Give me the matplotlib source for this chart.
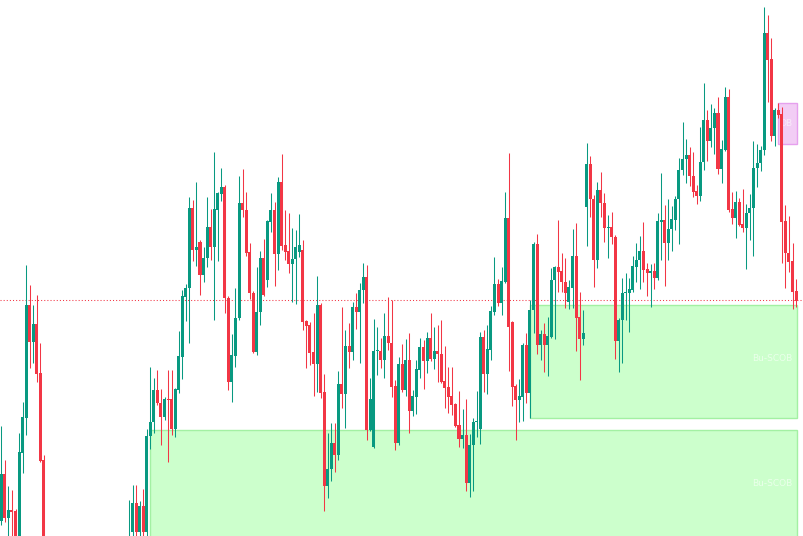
import numpy as np
import matplotlib.pyplot as plt
from matplotlib.patches import Rectangle

# OHLC, one entry per bar (arbitrary price units)
opens = [479, 526, 482, 490, 489, 450, 547, 582, 695, 658, 676, 627, 540,
         440, 418, 430, 398, 385, 400, 408, 422, 410, 388, 368, 382, 376, 400,
         394, 415, 406, 420, 434, 422, 436, 444, 438,
         440, 468, 497, 468, 494, 468, 564, 578, 610, 597, 583, 601, 601, 571,
         610, 643, 703, 712, 792, 750, 758, 725, 742, 773, 753, 790, 806, 813,
         702, 618, 644, 682, 797, 790, 748, 707, 648, 688, 742, 720, 778, 790,
         746, 818, 755, 749, 736, 741, 748, 750, 679, 675, 648, 636, 695, 608,
         514, 531, 557, 545, 616, 606, 654, 648, 693, 688, 710, 723, 570, 553,
         649, 649, 640, 664, 657, 614, 557, 636, 610, 640, 589, 603, 630, 653,
         639, 662, 641, 649, 646, 619, 613, 604, 596, 575, 561, 565, 517, 555,
         578, 571, 663, 626, 650, 688, 716, 697, 718, 782, 678, 614, 600, 603,
         655, 607, 690, 756, 655, 666, 655, 663, 720, 733, 729, 718, 698, 712,
         744, 683, 661, 793, 836, 801, 740, 810, 797, 772, 773, 763, 659, 680,
         707, 707, 710, 733, 740, 749, 731, 727, 729, 722, 778, 780, 757, 771,
         780, 801, 830, 841, 845, 824, 809, 804, 838, 880, 859, 872, 887, 831,
         850, 903, 791, 782, 798, 776, 772, 787, 792, 832, 837, 850, 967, 941,
         864, 890, 886, 779, 747, 739, 709]
highs = [574, 540, 514, 510, 491, 567, 598, 735, 715, 695, 705, 657, 545,
         452, 435, 440, 410, 405, 415, 430, 440, 425, 400, 390, 395, 405, 412,
         420, 430, 425, 440, 448, 440, 452, 455, 458,
         500, 515, 515, 499, 511, 571, 633, 622, 630, 611, 603, 630, 630, 612,
         669, 710, 716, 803, 800, 818, 760, 753, 803, 791, 848, 808, 832, 815,
         704, 666, 712, 824, 831, 808, 757, 709, 733, 749, 761, 780, 807, 798,
         823, 846, 790, 787, 772, 770, 786, 760, 680, 678, 687, 724, 697, 626,
         567, 577, 577, 629, 693, 670, 677, 698, 707, 717, 737, 735, 622, 681,
         673, 662, 687, 703, 700, 620, 643, 656, 661, 667, 610, 640, 662, 660,
         668, 687, 673, 675, 680, 654, 633, 633, 597, 609, 591, 601, 566, 582,
         609, 668, 670, 675, 694, 743, 721, 733, 808, 847, 679, 616, 621, 657,
         667, 700, 758, 766, 670, 677, 683, 732, 734, 780, 747, 742, 720, 771,
         777, 708, 690, 857, 844, 805, 818, 828, 807, 785, 788, 765, 682, 722,
         727, 722, 744, 757, 764, 778, 737, 736, 737, 787, 827, 795, 801, 794,
         804, 842, 878, 861, 853, 848, 815, 873, 917, 890, 896, 892, 903, 860,
         913, 911, 808, 809, 802, 811, 796, 806, 859, 856, 854, 993, 985, 962,
         892, 897, 893, 795, 784, 757, 721]
lows = [475, 478, 455, 452, 440, 444, 527, 565, 632, 637, 618, 538, 400,
        410, 400, 390, 375, 370, 388, 395, 402, 380, 360, 355, 370, 368, 385,
        388, 400, 395, 410, 415, 410, 425, 430, 425,
        428, 455, 455, 460, 460, 460, 551, 567, 595, 555, 580, 538, 565, 563,
        607, 621, 679, 657, 739, 734, 705, 718, 733, 740, 680, 739, 799, 687,
        610, 598, 633, 680, 783, 744, 701, 647, 645, 675, 704, 713, 768, 714,
        730, 750, 740, 727, 698, 696, 743, 670, 632, 635, 604, 608, 602, 489,
        502, 519, 528, 540, 592, 572, 632, 640, 671, 637, 697, 560, 569, 552,
        625, 632, 622, 650, 603, 550, 555, 608, 604, 567, 584, 586, 622, 611,
        627, 639, 631, 618, 617, 592, 587, 585, 573, 553, 552, 509, 503, 509,
        563, 556, 608, 606, 640, 685, 694, 685, 717, 629, 594, 560, 578, 579,
        597, 582, 667, 646, 640, 628, 624, 662, 661, 708, 708, 692, 691, 692,
        649, 620, 655, 754, 783, 713, 732, 783, 758, 742, 756, 641, 628, 637,
        680, 668, 708, 718, 711, 718, 704, 693, 711, 720, 740, 714, 740, 749,
        770, 756, 825, 817, 814, 803, 796, 799, 830, 839, 853, 846, 826, 817,
        849, 788, 776, 762, 774, 768, 731, 760, 744, 813, 829, 845, 898, 859,
        854, 882, 737, 712, 728, 691, 693]
closes = [526, 482, 490, 488, 450, 548, 583, 695, 658, 676, 626, 539, 440,
          418, 430, 398, 385, 400, 408, 422, 410, 388, 368, 382, 376, 400, 394,
          415, 406, 420, 434, 422, 436, 444, 438, 448,
          452, 497, 468, 494, 468, 564, 578, 610, 597, 583, 601, 600, 571, 611,
          644, 704, 712, 792, 750, 753, 725, 742, 773, 753, 791, 807, 813, 702,
          618, 645, 682, 797, 790, 747, 707, 648, 688, 742, 705, 779, 790, 746,
          818, 754, 748, 736, 741, 753, 755, 678, 674, 647, 636, 695, 607, 514,
          531, 557, 545, 616, 606, 654, 648, 693, 688, 710, 723, 570, 601, 649,
          650, 640, 664, 657, 613, 557, 636, 610, 640, 589, 604, 631, 653, 639,
          662, 641, 649, 646, 618, 612, 603, 595, 574, 561, 565, 517, 555, 578,
          579, 663, 626, 651, 689, 716, 697, 719, 782, 673, 613, 600, 604, 655,
          607, 690, 756, 655, 666, 655, 664, 720, 733, 728, 718, 707, 713, 744,
          682, 661, 667, 836, 801, 740, 810, 797, 772, 773, 763, 659, 680, 707,
          708, 711, 734, 740, 749, 730, 727, 729, 722, 779, 780, 757, 771, 781,
          801, 830, 841, 845, 824, 808, 804, 838, 880, 859, 872, 887, 831, 851,
          903, 790, 782, 798, 775, 772, 787, 792, 832, 837, 850, 967, 940, 864,
          890, 885, 778, 747, 738, 708, 699]

# horizontal level (dotted line)
level = 700

# demand zones: first bar, top, bottom, label
zone_start = [42, 149]
zone_top = [570, 695]
zone_bottom = [440, 582]
zone_label = ['Bu-SCOB', 'Bu-SCOB']
# supply zone
ob_start = 218.9
ob_top = 897
ob_bottom = 856
ob_label = 'OB'

o = np.array(opens)
h = np.array(highs)
l = np.array(lows)
c = np.array(closes)
x = np.arange(len(o))
up = c >= o
green = '#089981'
red = '#f23645'
colors = np.where(up, green, red)

fig = plt.figure(figsize=(8.04, 5.36), dpi=100)
ax = fig.add_axes([0, 0, 1, 1])
last = x[-1] + 0.3

for s, t, b, lab in zip(zone_start, zone_top, zone_bottom, zone_label):
    ax.add_patch(Rectangle((s, b), last - s, t - b, facecolor='#ccffcc',
                           edgecolor='#a3f0a3', lw=1, zorder=1))
    # label sits a fixed distance below the zone top
    ax.text(last - 1.4, t - 54, lab, ha='right', va='center',
            fontsize=6.5, color='#ffffff', alpha=0.6, zorder=2)

ax.add_patch(Rectangle((ob_start, ob_bottom), last - ob_start, ob_top - ob_bottom,
                       facecolor='#f2cdf5', edgecolor='#e6a0ee', lw=1, zorder=1))
ax.text(last - 1.4, (ob_top + ob_bottom) / 2, ob_label, ha='right', va='center',
        fontsize=6.5, color='#ffffff', alpha=0.6, zorder=2)

ax.axhline(level, color=red, lw=0.75, ls=(0, (1, 2)), zorder=2)

ax.vlines(x, l, h, color=colors, lw=0.75, zorder=3)
body_lo = np.minimum(o, c)
body_h = np.maximum(np.abs(c - o), 1)
ax.bar(x, body_h, bottom=body_lo, width=0.85, color=colors, lw=0, zorder=4)

ax.set_xlim(-0.37, 226.24)
ax.set_ylim(464, 1000)
ax.axis('off')

fig.savefig('out.png', dpi=100)
